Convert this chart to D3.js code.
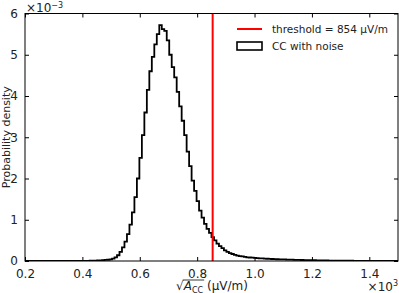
<!DOCTYPE html>
<html>
<head>
<meta charset="utf-8">
<script src="https://cdn.jsdelivr.net/npm/d3@7"></script>
<style>
  body { margin: 0; background: #fff; }
  text { font-family: "DejaVu Sans", sans-serif; fill: #222; }
</style>
</head>
<body>
<svg id="chart" width="399" height="293"></svg>
<script>
// histogram of sqrt(A_CC), x in units of 10^3 uV/m, density in units of 10^-3
const binStart = 0.2;
const binWidth = 1.3 / 150;
const density = [
  0, 0, 0, 0, 0, 0, 0, 0, 0, 0,
  0, 0, 0, 0, 0, 0, 0, 0, 0, 0,
  0.002, 0.002, 0.003, 0.003, 0.004, 0.005, 0.006, 0.008, 0.010, 0.012,
  0.015, 0.02, 0.025, 0.03, 0.04, 0.06, 0.09, 0.14, 0.22, 0.33,
  0.47, 0.65, 0.88, 1.18, 1.55, 2.00, 2.50, 3.05, 3.60, 4.15,
  4.60, 4.95, 5.25, 5.50, 5.72, 5.62, 5.58, 5.35, 5.00, 4.70,
  4.45, 4.10, 3.75, 3.40, 3.05, 2.65, 2.30, 1.95, 1.70, 1.45,
  1.22, 1.05, 0.90, 0.78, 0.68, 0.58, 0.50, 0.42, 0.36, 0.31,
  0.26, 0.22, 0.19, 0.17, 0.15, 0.13, 0.12, 0.11, 0.10, 0.09,
  0.085, 0.08, 0.075, 0.07, 0.066, 0.062, 0.058, 0.055, 0.052, 0.049,
  0.046, 0.043, 0.041, 0.039, 0.037, 0.035, 0.033, 0.031, 0.029, 0.027,
  0.026, 0.024, 0.023, 0.021, 0.020, 0.019, 0.018, 0.016, 0.015, 0.014,
  0.013, 0.012, 0.011, 0.011, 0.010, 0.009, 0.009, 0.008, 0.007, 0.007,
  0.006, 0.006, 0.005, 0.005, 0.005, 0.004, 0.004, 0.004, 0.003, 0.003,
  0.003, 0.003, 0.002, 0.002, 0.002, 0.002, 0.002, 0.001, 0.001, 0.001
];
const threshold = 0.854;
const xTicks = [0.2, 0.4, 0.6, 0.8, 1.0, 1.2, 1.4];
const yTicks = [0, 1, 2, 3, 4, 5, 6];
const legendLabels = ["threshold = 854 \u03BCV/m", "CC with noise"];

const margin = { top: 13.5, right: 1, bottom: 32, left: 25 };
const width = 399, height = 293;
const svg = d3.select("#chart");

const x = d3.scaleLinear().domain([0.2, 1.5]).range([margin.left, width - margin.right]);
const y = d3.scaleLinear().domain([0, 6]).range([height - margin.bottom, margin.top]);

// step outline
const pts = [[binStart, 0]];
density.forEach((d, i) => pts.push([binStart + i * binWidth, d]));
pts.push([binStart + density.length * binWidth, density[density.length - 1]]);
pts.push([binStart + density.length * binWidth, 0]);

svg.append("clipPath").attr("id", "clip")
  .append("rect")
  .attr("x", x(0.2)).attr("y", y(6))
  .attr("width", x(1.5) - x(0.2)).attr("height", y(0) - y(6));

svg.append("path")
  .datum(pts)
  .attr("clip-path", "url(#clip)")
  .attr("fill", "none")
  .attr("stroke", "#000")
  .attr("stroke-width", 1.8)
  .attr("d", d3.line().x(d => x(d[0])).y(d => y(d[1])).curve(d3.curveStepAfter));

svg.append("line")
  .attr("x1", x(threshold)).attr("x2", x(threshold))
  .attr("y1", y(0)).attr("y2", y(6))
  .attr("stroke", "#ff0000")
  .attr("stroke-width", 2);

// axes: ticks pointing inward on all four sides
const fmtX = d3.format(".1f");
svg.append("g")
  .attr("transform", `translate(0,${y(0)})`)
  .call(d3.axisBottom(x).tickValues(xTicks).tickFormat(fmtX).tickSizeInner(-4).tickSizeOuter(0).tickPadding(8))
  .call(g => g.select(".domain").remove())
  .call(g => g.selectAll("text").attr("font-size", 12).attr("fill", "#222"));
svg.append("g")
  .attr("transform", `translate(0,${y(6)})`)
  .call(d3.axisTop(x).tickValues(xTicks).tickFormat("").tickSizeInner(-4).tickSizeOuter(0))
  .call(g => g.select(".domain").remove());
svg.append("g")
  .attr("transform", `translate(${x(0.2)},0)`)
  .call(d3.axisLeft(y).tickValues(yTicks).tickFormat(d3.format("d")).tickSizeInner(-4).tickSizeOuter(0).tickPadding(7))
  .call(g => g.select(".domain").remove())
  .call(g => g.selectAll("text").attr("font-size", 12).attr("fill", "#222"));
svg.append("g")
  .attr("transform", `translate(${x(1.5)},0)`)
  .call(d3.axisRight(y).tickValues(yTicks).tickFormat("").tickSizeInner(-4).tickSizeOuter(0))
  .call(g => g.select(".domain").remove());

svg.append("rect")
  .attr("x", x(0.2)).attr("y", y(6))
  .attr("width", x(1.5) - x(0.2)).attr("height", y(0) - y(6))
  .attr("fill", "none").attr("stroke", "#000").attr("stroke-width", 1);

// offsets
const oy = svg.append("text").attr("x", x(0.2) + 1).attr("y", 11.5).attr("font-size", 12);
oy.append("tspan").text("\u00D710");
oy.append("tspan").attr("font-size", 8).attr("dy", -4).text("\u22123");
const ox = svg.append("text").attr("x", 398).attr("y", 290.5).attr("text-anchor", "end").attr("font-size", 12);
ox.append("tspan").text("\u00D710");
ox.append("tspan").attr("font-size", 8).attr("dy", -5).text("3");

// labels
svg.append("text")
  .attr("transform", `translate(10,${(y(0) + y(6)) / 2}) rotate(-90)`)
  .attr("text-anchor", "middle")
  .attr("font-size", 11)
  .text("Probability density");

const xl = svg.append("text").attr("x", 212).attr("y", 289.5).attr("text-anchor", "middle").attr("font-size", 12);
xl.append("tspan").text("\u221A");
xl.append("tspan").attr("font-style", "italic").text("A");
xl.append("tspan").attr("font-size", 8).attr("dy", 3).text("CC");
xl.append("tspan").attr("dy", -3).text(" (\u03BCV/m)");
const bb = xl.node().getBBox();
const sqrtW = xl.node().getSubStringLength(0, 1);
const overW = xl.node().getSubStringLength(1, 3);
svg.append("line")
  .attr("x1", bb.x + sqrtW - 1).attr("x2", bb.x + sqrtW + overW + 1)
  .attr("y1", bb.y + 1.5).attr("y2", bb.y + 1.5)
  .attr("stroke", "#222").attr("stroke-width", 0.9);

// legend
const lg = svg.append("g");
lg.append("line").attr("x1", 237).attr("x2", 262).attr("y1", 29).attr("y2", 29)
  .attr("stroke", "#ff0000").attr("stroke-width", 2);
lg.append("rect").attr("x", 237).attr("y", 42).attr("width", 25).attr("height", 8)
  .attr("fill", "none").attr("stroke", "#000").attr("stroke-width", 1.6);
lg.selectAll(".lt").data(legendLabels).enter().append("text")
  .attr("x", 272).attr("y", (d, i) => 33 + i * 17)
  .attr("font-size", 10.5)
  .text(d => d);
</script>
</body>
</html>
